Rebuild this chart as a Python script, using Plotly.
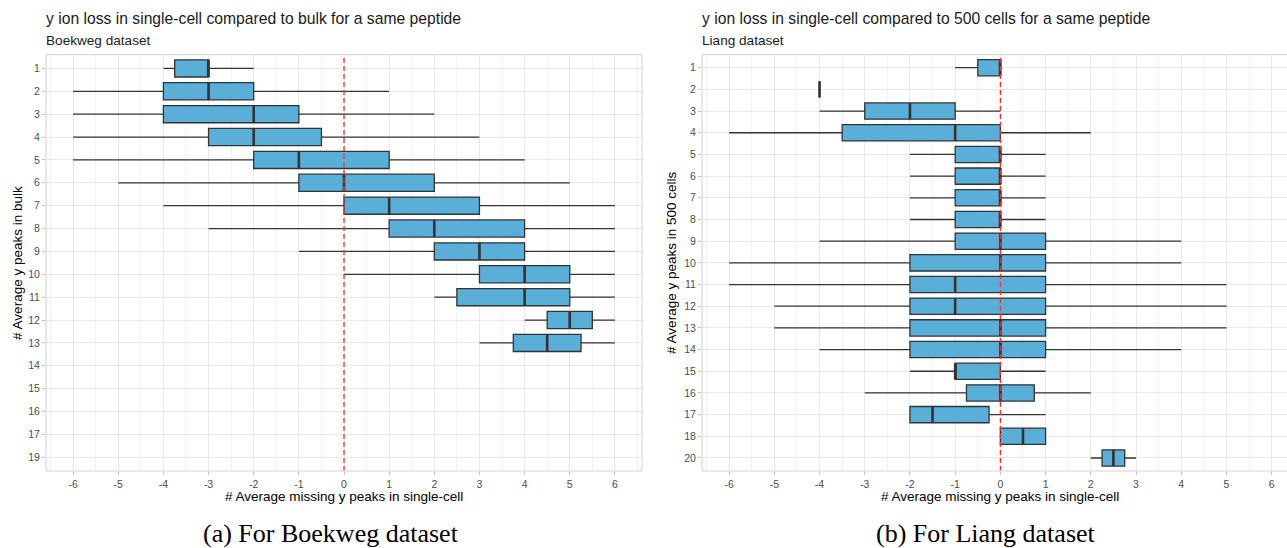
import plotly.graph_objects as go

# ---- Boekweg dataset: y ion loss, single-cell vs bulk ----
boek_axis_labels = ["1", "2", "3", "4", "5", "6", "7", "8", "9", "10",
                    "11", "12", "13", "14", "15", "16", "17", "19"]
boek_groups = ["1", "2", "3", "4", "5", "6", "7", "8", "9", "10", "11", "12", "13"]
boek_lower = [-4, -6, -6, -6, -6, -5, -4, -3, -1, 0, 2, 4, 3]
boek_q1 = [-3.75, -4, -4, -3, -2, -1, 0, 1, 2, 3, 2.5, 4.5, 3.75]
boek_median = [-3, -3, -2, -2, -1, 0, 1, 2, 3, 4, 4, 5, 4.5]
boek_q3 = [-3, -2, -1, -0.5, 1, 2, 3, 4, 4, 5, 5, 5.5, 5.25]
boek_upper = [-2, 1, 2, 3, 4, 5, 6, 6, 6, 6, 6, 6, 6]

# ---- Liang dataset: y ion loss, single-cell vs 500 cells ----
liang_axis_labels = ["1", "2", "3", "4", "5", "6", "7", "8", "9", "10",
                     "11", "12", "13", "14", "15", "16", "17", "18", "20"]
liang_groups = liang_axis_labels
liang_lower = [-1, -4, -4, -6, -2, -2, -2, -2, -4, -6, -6, -5, -5, -4, -2, -3, -2, 0, 2]
liang_q1 = [-0.5, -4, -3, -3.5, -1, -1, -1, -1, -1, -2, -2, -2, -2, -2, -1, -0.75, -2, 0, 2.25]
liang_median = [0, -4, -2, -1, 0, 0, 0, 0, 0, 0, -1, -1, 0, 0, -1, 0, -1.5, 0.5, 2.5]
liang_q3 = [0, -4, -1, 0, 0, 0, 0, 0, 1, 1, 1, 1, 1, 1, 0, 0.75, -0.25, 1, 2.75]
liang_upper = [0, -4, 0, 2, 1, 1, 1, 1, 4, 4, 5, 5, 5, 4, 1, 2, 1, 1, 3]

x_tick_values = [-6, -5, -4, -3, -2, -1, 0, 1, 2, 3, 4, 5, 6]
x_tick_labels = ["-6", "-5", "-4", "-3", "-2", "-1", "0", "1", "2", "3", "4", "5", "6"]
x_minor_values = [-6.5, -5.5, -4.5, -3.5, -2.5, -1.5, -0.5, 0.5, 1.5, 2.5, 3.5, 4.5, 5.5, 6.5]

W, H = 1287, 548
FILL = "#5AAFD9"
EDGE = "#333333"
GRID = "#E8E8E8"
MINOR = "#F2F2F2"
BORDER = "#D2D2D2"
TICKTXT = "#4D4D4D"
SANS = "Liberation Sans, Arial, sans-serif"
SERIF = "Liberation Serif, DejaVu Serif, serif"


def px_x(p):
    return p / W


def px_y(p):
    return 1 - p / H


fig = go.Figure()


def add_panel(xa, ya, groups, axis_labels, lower, q1, med, q3, upper):
    pos = [axis_labels.index(g) for g in groups]
    fig.add_trace(go.Box(
        orientation="h", y=pos, lowerfence=lower, q1=q1, median=med, q3=q3,
        upperfence=upper, width=0.75, whiskerwidth=0,
        fillcolor=FILL, line=dict(color=EDGE, width=1.3),
        boxpoints=False, showlegend=False, xaxis=xa, yaxis=ya,
    ))
    # thicker median bar on top of each box
    fig.add_trace(go.Box(
        orientation="h", y=pos, lowerfence=med, q1=med, median=med, q3=med,
        upperfence=med, width=0.75, whiskerwidth=0,
        fillcolor="rgba(0,0,0,0)", line=dict(color=EDGE, width=2.6),
        boxpoints=False, showlegend=False, xaxis=xa, yaxis=ya,
    ))


add_panel("x", "y", boek_groups, boek_axis_labels,
          boek_lower, boek_q1, boek_median, boek_q3, boek_upper)
add_panel("x2", "y2", liang_groups, liang_axis_labels,
          liang_lower, liang_q1, liang_median, liang_q3, liang_upper)

panel_top, panel_bottom = 54.7, 471.0
y_dom = [px_y(panel_bottom), px_y(panel_top)]

xaxis_common = dict(
    tickmode="array", tickvals=x_tick_values, ticktext=x_tick_labels,
    showgrid=True, gridcolor=GRID, gridwidth=1, zeroline=False,
    ticks="outside", ticklen=3, tickcolor="#C4C4C4",
    tickfont=dict(family=SANS, size=10.5, color=TICKTXT),
    minor=dict(tickmode="array", tickvals=x_minor_values, showgrid=True,
               gridcolor=MINOR, gridwidth=1, ticks=""),
    showline=False, fixedrange=True,
)


def yaxis_common(labels):
    return dict(
        tickmode="array", tickvals=list(range(len(labels))), ticktext=labels,
        range=[len(labels) - 1 + 0.6, -0.6],
        showgrid=True, gridcolor=GRID, gridwidth=1, zeroline=False,
        ticks="outside", ticklen=3, tickcolor="#C4C4C4",
        tickfont=dict(family=SANS, size=10.5, color=TICKTXT),
        showline=False, domain=y_dom, fixedrange=True,
    )


fig.update_layout(
    width=W, height=H, margin=dict(l=0, r=0, t=0, b=0),
    paper_bgcolor="white", plot_bgcolor="white", boxmode="overlay",
    xaxis=dict(domain=[px_x(46), px_x(642)], range=[-6.6, 6.6], anchor="y", **xaxis_common),
    yaxis=dict(anchor="x", **yaxis_common(boek_axis_labels)),
    xaxis2=dict(domain=[px_x(702), 1.0], range=[-6.6, 6.34], anchor="y2", **xaxis_common),
    yaxis2=dict(anchor="x2", **yaxis_common(liang_axis_labels)),
)

# zero reference lines
for xr, yr in (("x", "y domain"), ("x2", "y2 domain")):
    fig.add_shape(type="line", xref=xr, yref=yr, x0=0, x1=0, y0=0, y1=1,
                  line=dict(color="#FF2A2A", width=1.3, dash="5px,3px"), layer="above")

# panel borders
fig.add_shape(type="rect", xref="x domain", yref="y domain", x0=0, x1=1, y0=0, y1=1,
              line=dict(color=BORDER, width=1), layer="above")
for x0, x1, y0, y1 in ((0, 1.02, 0, 0), (0, 1.02, 1, 1), (0, 0, 0, 1)):
    fig.add_shape(type="line", xref="x2 domain", yref="y2 domain",
                  x0=x0, x1=x1, y0=y0, y1=y1,
                  line=dict(color=BORDER, width=1), layer="above")

annotations = [
    # titles and subtitles, aligned with each panel's left edge
    dict(text="y ion loss in single-cell compared to bulk for a same peptide",
         x=px_x(44), y=px_y(18), xanchor="left", yanchor="middle",
         font=dict(family=SANS, size=15.7, color="#1A1A1A")),
    dict(text="Boekweg dataset", x=px_x(44), y=px_y(40), xanchor="left", yanchor="middle",
         font=dict(family=SANS, size=13.6, color="#1A1A1A")),
    dict(text="y ion loss in single-cell compared to 500 cells for a same peptide",
         x=px_x(700), y=px_y(18), xanchor="left", yanchor="middle",
         font=dict(family=SANS, size=15.7, color="#1A1A1A")),
    dict(text="Liang dataset", x=px_x(700), y=px_y(40), xanchor="left", yanchor="middle",
         font=dict(family=SANS, size=13.6, color="#1A1A1A")),
    # axis titles
    dict(text="# Average y peaks in bulk", x=px_x(18), y=px_y(262.9), textangle=-90,
         xanchor="center", yanchor="middle",
         font=dict(family=SANS, size=13.5, color="#000000")),
    dict(text="# Average y peaks in 500 cells", x=px_x(672), y=px_y(262.9), textangle=-90,
         xanchor="center", yanchor="middle",
         font=dict(family=SANS, size=13.5, color="#000000")),
    dict(text="# Average missing y peaks in single-cell", x=px_x(344), y=px_y(496),
         xanchor="center", yanchor="middle",
         font=dict(family=SANS, size=13.5, color="#000000")),
    dict(text="# Average missing y peaks in single-cell", x=px_x(1000), y=px_y(496),
         xanchor="center", yanchor="middle",
         font=dict(family=SANS, size=13.5, color="#000000")),
    # sub-figure captions
    dict(text="(a) For Boekweg dataset", x=px_x(331), y=px_y(533),
         xanchor="center", yanchor="middle",
         font=dict(family=SERIF, size=26, color="#000000")),
    dict(text="(b) For Liang dataset", x=px_x(986), y=px_y(533),
         xanchor="center", yanchor="middle",
         font=dict(family=SERIF, size=26, color="#000000")),
]
for a in annotations:
    a.update(xref="paper", yref="paper", showarrow=False)
fig.update_layout(annotations=annotations)

fig.write_html("out.html")
